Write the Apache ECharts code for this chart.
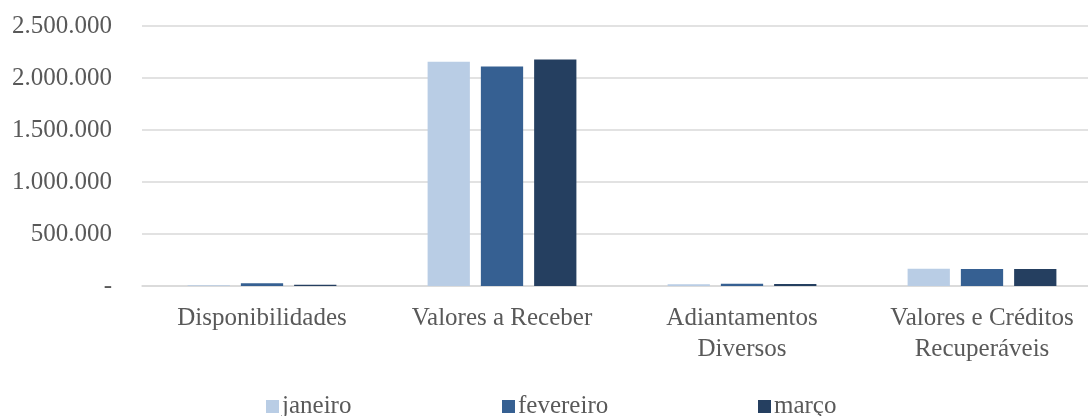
<!doctype html>
<html>
<head>
<meta charset="utf-8">
<title>Ativo circulante</title>
<script src="https://cdn.jsdelivr.net/npm/echarts@6/dist/echarts.min.js"></script>
<style>
  html, body { margin: 0; padding: 0; background: #fff; overflow: hidden; }
  #chart { width: 1120px; height: 416px; }
</style>
</head>
<body>
<div id="chart"></div>
<script>
// data
var categories = ['Disponibilidades', 'Valores a Receber', 'Adiantamentos\nDiversos', 'Valores e Créditos\nRecuperáveis'];
var janeiro = [8000, 2156000, 17000, 165000];
var fevereiro = [26000, 2111000, 22000, 163000];
var marco = [12000, 2178000, 19000, 163000];
var seriesNames = ['janeiro', 'fevereiro', 'março'];
var colors = ['#B9CDE5', '#366092', '#253F60'];

var font = '"Liberation Serif", "DejaVu Serif", serif';

function fmt(v) {
    if (v === 0) return '-';
    return String(v).replace(/\B(?=(\d{3})+(?!\d))/g, '.');
}

function bar(name, data, color) {
    return {
        name: name,
        type: 'bar',
        data: data,
        barGap: '26%',
        barCategoryGap: '38%',
        itemStyle: { color: color },
        emphasis: { disabled: true }
    };
}

// one legend per item so each sits where the reference puts it
function legend(name, left) {
    return {
        data: [name],
        left: left,
        top: 389,
        icon: 'rect',
        itemWidth: 13,
        itemHeight: 13,
        itemGap: 5,
        textStyle: { fontFamily: font, fontSize: 25, color: '#595959', padding: [3, 0, 0, -2] }
    };
}

var chart = echarts.init(document.getElementById('chart'));
chart.setOption({
    animation: false,
    color: colors,
    legend: [
        legend(seriesNames[0], 261),
        legend(seriesNames[1], 497),
        legend(seriesNames[2], 753)
    ],
    grid: { left: 142, top: 26, width: 960, height: 260, containLabel: false },
    xAxis: {
        type: 'category',
        data: categories,
        axisLine: { lineStyle: { color: '#D9D9D9', width: 1.5 } },
        axisTick: { show: false },
        axisLabel: {
            fontFamily: font,
            fontSize: 25,
            color: '#595959',
            lineHeight: 31,
            margin: 17,
            interval: 0
        }
    },
    yAxis: {
        type: 'value',
        min: 0,
        max: 2500000,
        interval: 500000,
        axisLine: { show: false },
        axisTick: { show: false },
        splitLine: { lineStyle: { color: '#D9D9D9', width: 1.5 } },
        axisLabel: {
            fontFamily: font,
            fontSize: 25,
            color: '#595959',
            margin: 30,
            formatter: fmt
        }
    },
    series: [
        bar(seriesNames[0], janeiro, colors[0]),
        bar(seriesNames[1], fevereiro, colors[1]),
        bar(seriesNames[2], marco, colors[2])
    ]
});
</script>
</body>
</html>
